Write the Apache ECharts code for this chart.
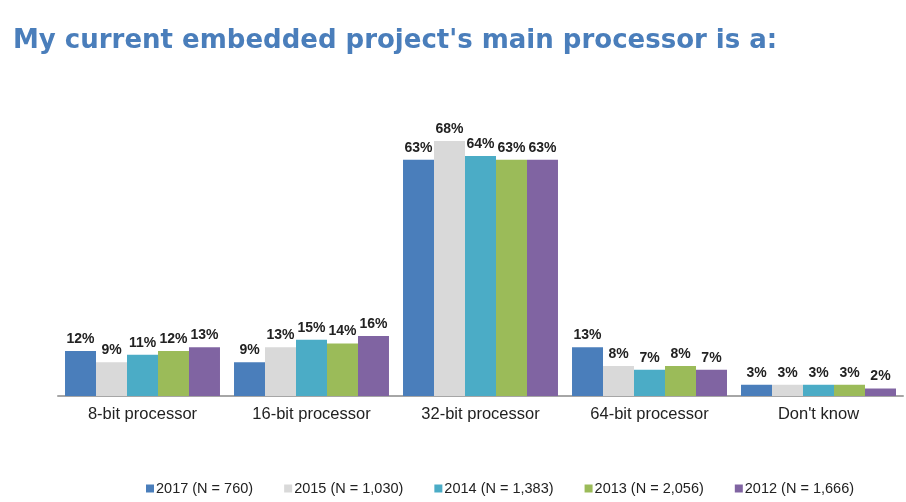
<!DOCTYPE html>
<html><head><meta charset="utf-8">
<script src="https://cdn.jsdelivr.net/npm/echarts@6/dist/echarts.min.js"></script>
<style>html,body{margin:0;padding:0;background:#fff}#c{width:906px;height:502px}</style>
</head><body><div id="c"></div>
<script>
const categories = ["8-bit processor", "16-bit processor", "32-bit processor", "64-bit processor", "Don't know"];
const seriesNames = ["2017 (N = 760)", "2015 (N = 1,030)", "2014 (N = 1,383)", "2013 (N = 2,056)", "2012 (N = 1,666)"];
const v2017 = [12, 9, 63, 13, 3];
const v2015 = [9, 13, 68, 8, 3];
const v2014 = [11, 15, 64, 7, 3];
const v2013 = [12, 14, 63, 8, 3];
const v2012 = [13, 16, 63, 7, 2];
const colors = ["#4a7ebb", "#d9d9d9", "#4bacc6", "#9bbb59", "#8064a2"];

const data = [v2017, v2015, v2014, v2013, v2012];
const chart = echarts.init(document.getElementById('c'));
chart.setOption({
  animation: false,
  title: {
    text: "My current embedded project's main processor is a:",
    left: 8, top: 23,
    textStyle: {fontFamily: 'DejaVu Sans', fontWeight: 'bold', fontSize: 26, color: '#4a7ebb'}
  },
  legend: {
    top: 476, left: 141, itemWidth: 8, itemHeight: 8, itemGap: 31,
    icon: 'rect',
    textStyle: {fontFamily: 'Liberation Sans, Arial', fontSize: 14.5, color: '#222', padding: [0,0,0,-3]},
    data: seriesNames
  },
  grid: {left: 58, right: 3, top: 133.5, bottom: 106, containLabel: false},
  xAxis: {
    type: 'category', data: categories,
    axisLine: {show: true, lineStyle: {color: '#a6a6a6', width: 2}},
    axisTick: {show: false},
    axisLabel: {fontFamily: 'Liberation Sans, Arial', fontSize: 16.5, color: '#222', margin: 10}
  },
  yAxis: {type: 'value', min: 0, max: 70, show: false, splitLine: {show: false}},
  series: data.map((d, i) => ({
    name: seriesNames[i], type: 'bar', data: d,
    barGap: '0%', barCategoryGap: '8.3%',
    itemStyle: {color: colors[i]},
    label: {show: true, position: 'top', formatter: '{c}%', distance: 5,
      fontFamily: 'Liberation Sans, Arial', fontWeight: 'bold', fontSize: 14, color: '#222'}
  }))
});
</script></body></html>
